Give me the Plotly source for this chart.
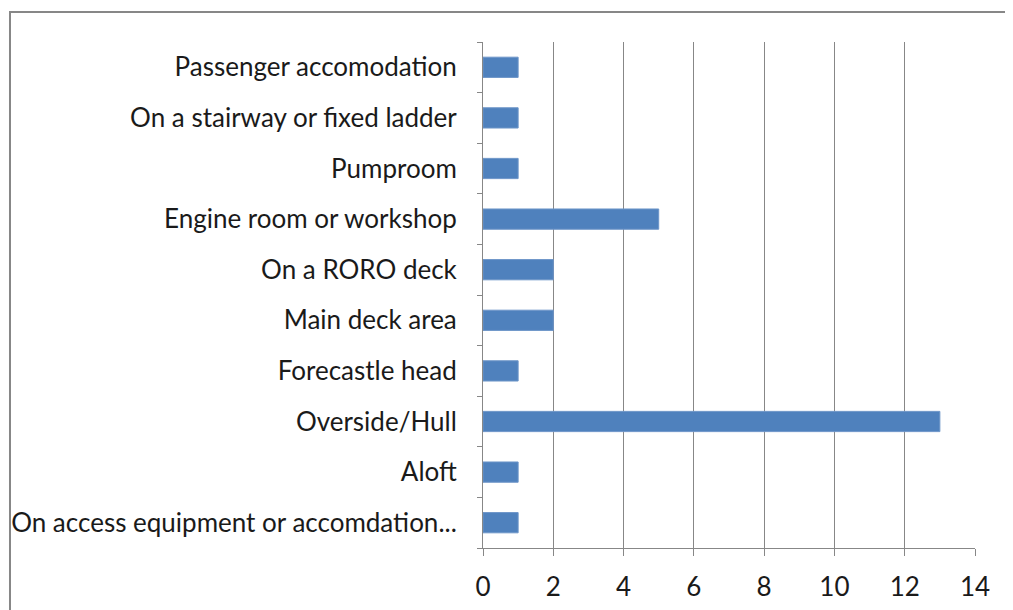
import plotly.graph_objects as go

# categories listed bottom to top (plotly draws the first one at the bottom)
locations = [
    "On access equipment or accomdation...",
    "Aloft",
    "Overside/Hull",
    "Forecastle head",
    "Main deck area",
    "On a RORO deck",
    "Engine room or workshop",
    "Pumproom",
    "On a stairway or fixed ladder",
    "Passenger accomodation",
]
counts = [1, 1, 13, 1, 2, 2, 5, 1, 1, 1]
x_ticks = [0, 2, 4, 6, 8, 10, 12, 14]

GRID = "#878787"
FONT = dict(family="Lato, Carlito, Calibri, sans-serif", size=26, color="#1a1a1a")

fig = go.Figure(go.Bar(
    x=counts,
    y=locations,
    orientation="h",
    marker=dict(color="#4F81BD", line=dict(color="#6D95C8", width=1)),
))

# page body adds an 8px offset, so the figure is a bit smaller than the window
fig.update_layout(
    width=1005,
    height=602,
    margin=dict(l=475, r=38, t=34, b=62),
    paper_bgcolor="white",
    plot_bgcolor="white",
    bargap=0.6,
    showlegend=False,
    font=FONT,
    # outer chart border, cut off at the right and bottom like the picture
    shapes=[dict(
        type="rect", xref="paper", yref="paper",
        x0=-0.9614, x1=1.2, y0=-0.3, y1=1.0593,
        line=dict(color=GRID, width=2), fillcolor="rgba(0,0,0,0)", layer="below",
    )],
)

fig.update_xaxes(
    range=[0, 14],
    tickvals=x_ticks,
    showgrid=True, gridcolor=GRID, gridwidth=1,
    showline=True, linecolor=GRID, linewidth=1,
    ticks="outside", ticklen=7, tickcolor=GRID,
    ticklabelstandoff=9,
    zeroline=False,
    automargin=False,
    fixedrange=True,
)
fig.update_yaxes(
    type="category",
    showgrid=False,
    showline=True, linecolor=GRID, linewidth=1,
    ticks="outside", ticklen=5, tickcolor=GRID,
    tickson="boundaries",
    ticklabelstandoff=20,
    automargin=False,
    fixedrange=True,
)

fig.write_html("out.html")
